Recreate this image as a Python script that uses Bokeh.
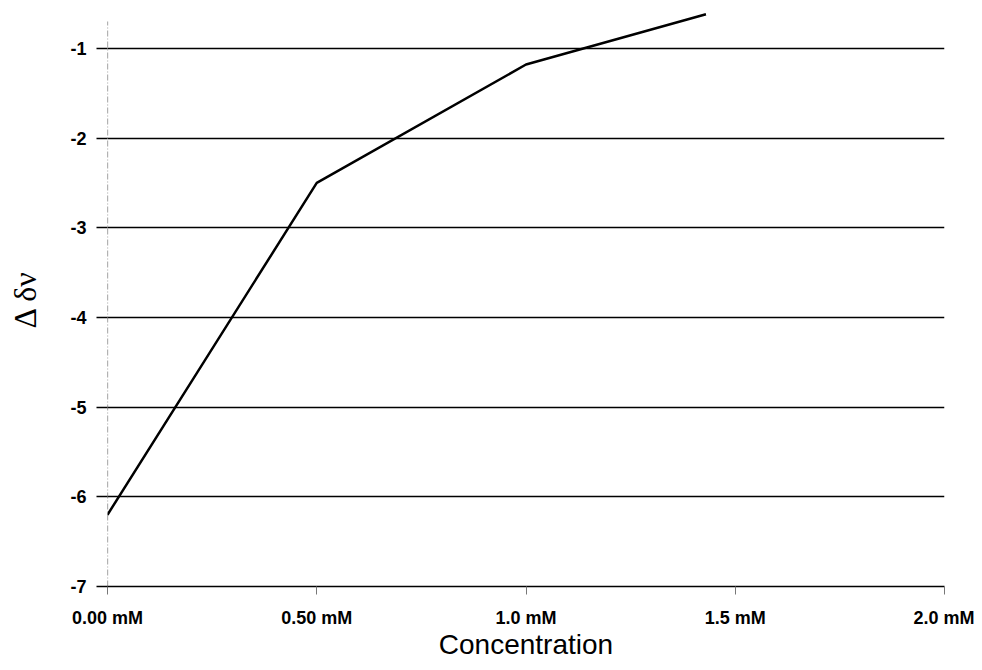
from bokeh.plotting import figure
from bokeh.models import FixedTicker, Range1d
from bokeh.embed import file_html
from bokeh.resources import INLINE

# Data
conc = [0.0, 0.5, 1.0, 1.43]
delta = [-6.2, -2.5, -1.18, -0.62]
x_ticks = [0.0, 0.5, 1.0, 1.5, 2.0]
x_tick_labels = ["0.00 mM", "0.50 mM", "1.0 mM", "1.5 mM", "2.0 mM"]
y_ticks = [-7, -6, -5, -4, -3, -2, -1]
y_tick_labels = ["-7", "-6", "-5", "-4", "-3", "-2", "-1"]
y_axis_span = [-7.0, -0.7]

p = figure(width=974, height=662, output_backend="svg", toolbar_location=None,
           x_range=Range1d(0, 2.0), y_range=Range1d(-7, -0.6),
           min_border_left=107, min_border_right=30, min_border_top=12, min_border_bottom=75)
p.outline_line_color = None
p.background_fill_color = "white"
p.border_fill_color = "white"

p.xgrid.visible = False
p.ygrid.ticker = FixedTicker(ticks=y_ticks)
p.ygrid.grid_line_color = "black"
p.ygrid.grid_line_width = 1.5

# x axis
p.xaxis.ticker = FixedTicker(ticks=x_ticks)
p.xaxis.major_label_overrides = {t: l for t, l in zip(x_ticks, x_tick_labels)}
p.xaxis.axis_line_color = "black"
p.xaxis.axis_line_width = 1.5
p.xaxis.major_tick_in = 0
p.xaxis.major_tick_out = 8
p.xaxis.major_tick_line_color = "#777777"
p.xaxis.minor_tick_line_color = None
p.xaxis.major_label_text_font = "Liberation Sans"
p.xaxis.major_label_text_font_style = "bold"
p.xaxis.major_label_text_font_size = "18px"
p.xaxis.major_label_text_color = "black"
p.xaxis.major_label_standoff = 13
p.xaxis.axis_label = "Concentration"
p.xaxis.axis_label_text_font = "Liberation Sans"
p.xaxis.axis_label_text_font_style = "normal"
p.xaxis.axis_label_text_font_size = "28px"
p.xaxis.axis_label_text_color = "black"
p.xaxis.axis_label_standoff = -2

# y axis
p.yaxis.ticker = FixedTicker(ticks=y_ticks)
p.yaxis.major_label_overrides = {t: l for t, l in zip(y_ticks, y_tick_labels)}
p.yaxis.axis_line_color = None
p.yaxis.major_tick_in = 0
p.yaxis.major_tick_out = 11
p.yaxis.major_tick_line_color = "black"
p.yaxis.major_tick_line_width = 1.5
p.yaxis.minor_tick_line_color = None
p.yaxis.major_label_text_font = "Liberation Sans"
p.yaxis.major_label_text_font_style = "bold"
p.yaxis.major_label_text_font_size = "18px"
p.yaxis.major_label_text_color = "black"
p.yaxis.major_label_standoff = 10
p.yaxis.axis_label = "Δ δν"
p.yaxis.axis_label_text_font = "Liberation Serif"
p.yaxis.axis_label_text_font_style = "normal"
p.yaxis.axis_label_text_font_size = "32px"
p.yaxis.axis_label_text_color = "black"
p.yaxis.axis_label_standoff = 24

# dashed vertical axis line
p.line([0, 0], y_axis_span, line_color="#666666", line_width=1.2, line_dash="6 2 1 2")

# data line
p.line(conc, delta, line_color="black", line_width=2.5)

open("out.html", "w").write(file_html(p, INLINE))
